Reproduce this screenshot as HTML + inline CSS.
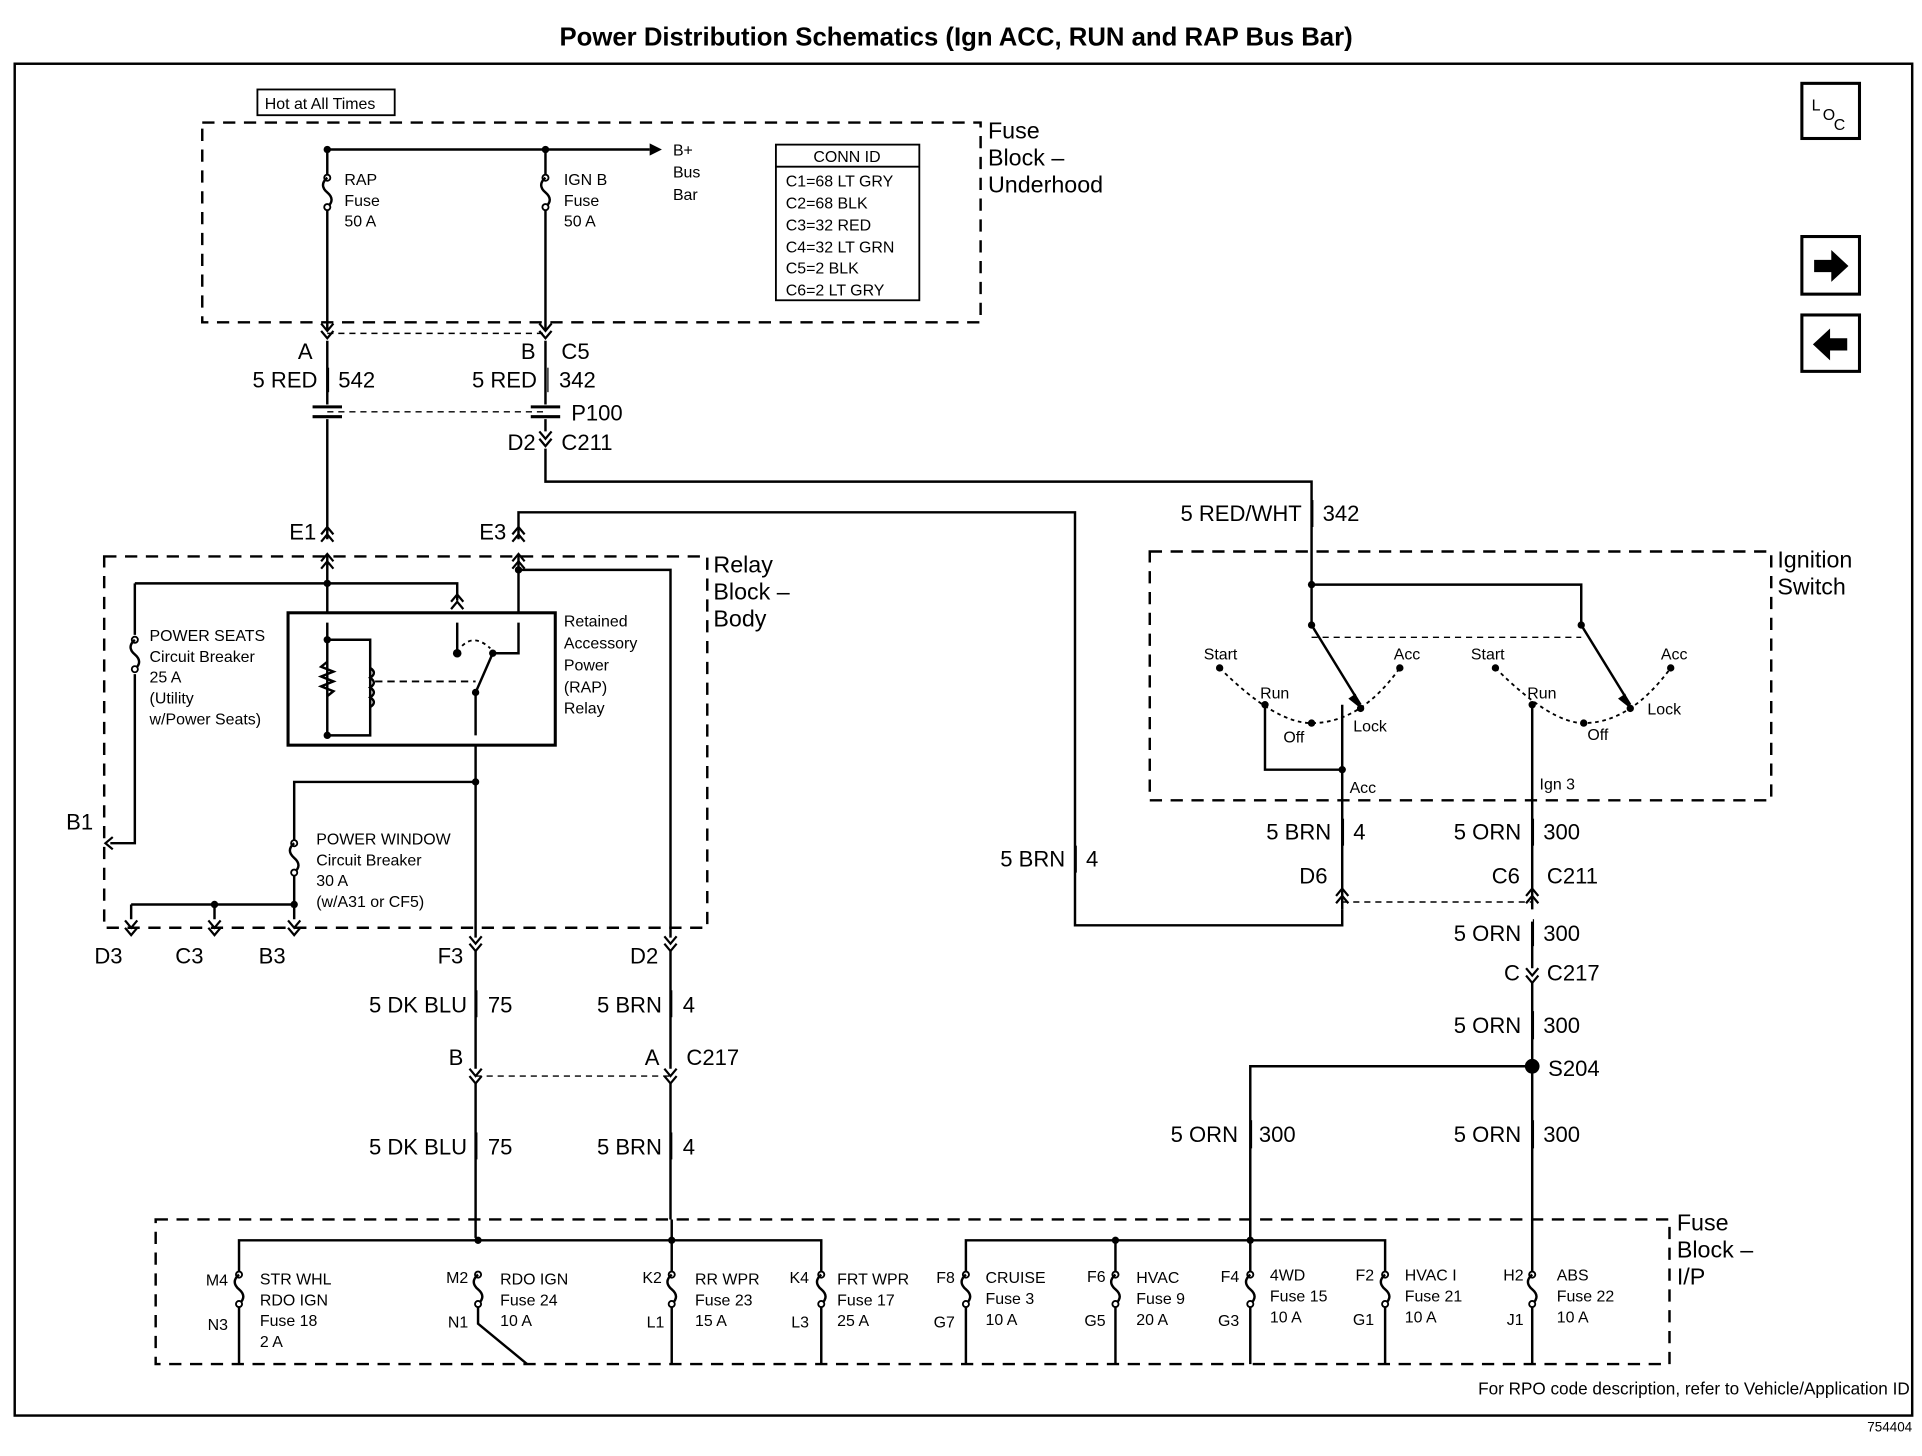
<!DOCTYPE html>
<html><head><meta charset="utf-8"><style>
html,body{margin:0;padding:0;background:#fff;}
svg{display:block;}
text{font-family:"Liberation Sans",Arial,sans-serif;fill:#000;}
.s{font-size:13px;}
.m{font-size:18px;}
.l{font-size:19px;}
</style></head><body>
<svg width="1922" height="1456" viewBox="0 0 1568 1188" preserveAspectRatio="none" xmlns="http://www.w3.org/2000/svg">
<defs>
<g id="fz"><circle cx="0" cy="0" r="2.5" fill="#fff" stroke="#000" stroke-width="1.5"/><path d="M0 0 q-7 6 0 12 q7 6 0 12" fill="none" stroke="#000" stroke-width="2"/><circle cx="0" cy="24" r="2.5" fill="#fff" stroke="#000" stroke-width="1.5"/></g>
<g id="cd"><path d="M-5 -6 L0 0 L5 -6 M-5 0 L0 6 L5 0" fill="none" stroke="#000" stroke-width="1.8"/></g>
<g id="cu"><path d="M-5 6 L0 0 L5 6 M-5 12 L0 6 L5 12" fill="none" stroke="#000" stroke-width="1.8"/></g>
</defs>
<rect width="1568" height="1188" fill="#fff"/>
<text x="780" y="37" text-anchor="middle" style="font-size:21px;font-weight:bold">Power Distribution Schematics (Ign ACC, RUN and RAP Bus Bar)</text>
<rect x="12" y="52" width="1548" height="1103" fill="none" stroke="#000" stroke-width="2"/>
<text x="1558" y="1138" text-anchor="end" style="font-size:14px">For RPO code description, refer to Vehicle/Application ID</text>
<text x="1560" y="1168" text-anchor="end" style="font-size:11px">754404</text>
<!-- side boxes -->
<g fill="none" stroke="#000" stroke-width="2.5">
<rect x="1470" y="68" width="47" height="45"/>
<rect x="1470" y="193" width="47" height="47"/>
<rect x="1470" y="257" width="47" height="46"/>
</g>
<text x="1478" y="90" class="s">L</text><text x="1487" y="98" class="s">O</text><text x="1496" y="106" class="s">C</text>
<path d="M1480 212 h14 v-8 l14 13 l-14 13 v-8 h-14z" fill="#000"/>
<path d="M1507 276 h-14 v-8 l-14 13 l14 13 v-8 h14z" fill="#000"/>

<g fill="none" stroke="#000" stroke-width="2">
<!-- dashed boxes -->
<rect x="165" y="100" width="635" height="163" stroke-dasharray="10 7"/>
<rect x="85" y="454" width="492" height="303" stroke-dasharray="10 7"/>
<rect x="938" y="450" width="507" height="203" stroke-dasharray="10 7"/>
<rect x="127" y="995" width="1235" height="118" stroke-dasharray="10 7"/>
<rect x="210" y="73" width="112" height="21" stroke-width="1.5"/>
<rect x="633" y="118" width="117" height="127" stroke-width="1.5"/>
<line x1="633" y1="136" x2="750" y2="136" stroke-width="1.5"/>
<!-- underhood wires -->
<path d="M267 122 V145 M267 169 V264 M445 122 V145 M445 169 V264 M267 122 H530"/>
<path d="M267 264 V270 M445 264 V270"/>
<line x1="267" y1="272" x2="445" y2="272" stroke-dasharray="5 4" stroke-width="1.2"/>
<path d="M267 278 V330 M445 278 V330 M267 342 V440 M445 342 V352"/>
<line x1="267" y1="336" x2="445" y2="336" stroke-dasharray="5 4" stroke-width="1.2"/>
<path d="M255 332 h24 M255 340 h24 M433 332 h24 M433 340 h24" stroke-width="2.5"/>
<path d="M445 366 V393 H1070 V477"/>
<path d="M423 440 V418 H877 V755 H1095 V742"/>
<!-- relay block -->
<path d="M267 452 V500 M110 476 H373 V490 M110 476 V518 M110 550 V688 H90"/>
<path d="M423 452 V500 M423 465 H547 V765"/>
<rect x="235" y="500" width="218" height="108" stroke-width="2.5"/>
<path d="M267 508 V600 M267 522 H302 V600 H267 M302 545 q6 4 0 8 q6 4 0 8 q6 4 0 8 q6 4 0 8"/>
<path d="M267 540 l-5 4 l10 4 l-10 4 l10 4 l-10 4 l10 4 l-5 4"/>
<line x1="306" y1="556" x2="388" y2="556" stroke-dasharray="6 4" stroke-width="1.5"/>
<path d="M373 508 V530 M388 608 V765 M388 565 L402 533 H423 V508 M388 565 V600"/>
<path d="M377 527 q10 -10 23 2" stroke-dasharray="3 3" stroke-width="1.5"/>
<path d="M388 638 H240 V688 M240 712 V750 M107 738 H240 M107 738 V750 M175 738 V750"/>
<!-- lower wires -->
<path d="M388 775 V872 M547 775 V872 M388 884 V1010 M547 884 V995"/>
<line x1="388" y1="878" x2="547" y2="878" stroke-dasharray="5 4" stroke-width="1.2"/>
<!-- ignition switch -->
<path d="M1070 477 H1290 V510 M1070 477 V510 M1070 510 L1110 575 M1290 510 L1330 575"/>
<line x1="1070" y1="520" x2="1290" y2="520" stroke-dasharray="5 4" stroke-width="1.2"/>
<path d="M995 545 Q1040 590 1070 590 Q1110 590 1142 545" stroke-dasharray="3 3" stroke-width="1.5"/>
<path d="M1220 545 Q1265 590 1292 590 Q1330 590 1363 545" stroke-dasharray="3 3" stroke-width="1.5"/>
<path d="M1032 575 V628 H1095 V742 M1095 575 V628 M1250 575 V742"/>
<line x1="1095" y1="736" x2="1250" y2="736" stroke-dasharray="5 4" stroke-width="1.2"/>
<path d="M1250 752 V790 M1250 802 V1040 M1250 870 H1020 V1040"/>
<!-- fuse block I/P -->
<path d="M195 1040 V1012 H670 V1040 M548 995 V1040 M195 1064 V1113 M390 1064 V1080 L430 1113 M548 1064 V1113 M670 1064 V1113"/>
<path d="M788 1040 V1012 H1130 V1040 M910 1012 V1040 M788 1064 V1113 M910 1064 V1113 M1020 1064 V1113 M1130 1064 V1113 M1250 1064 V1113 M1020 995 V1012"/>
</g>
<polygon points="530,117 540,122 530,127" fill="#000"/>
<use href="#fz" x="267" y="145"/><use href="#fz" x="445" y="145"/>
<use href="#fz" x="110" y="522"/><use href="#fz" x="240" y="688"/>
<use href="#fz" x="195" y="1040"/><use href="#fz" x="390" y="1040"/><use href="#fz" x="548" y="1040"/><use href="#fz" x="670" y="1040"/><use href="#fz" x="788" y="1040"/><use href="#fz" x="910" y="1040"/><use href="#fz" x="1020" y="1040"/><use href="#fz" x="1130" y="1040"/><use href="#fz" x="1250" y="1040"/>
<use href="#cd" x="267" y="270"/><use href="#cd" x="445" y="270"/><use href="#cd" x="445" y="358"/>
<use href="#cu" x="267" y="430"/><use href="#cu" x="423" y="430"/>
<use href="#cu" x="267" y="452"/><use href="#cu" x="423" y="452"/><use href="#cu" x="373" y="485"/>
<use href="#cd" x="107" y="757"/><use href="#cd" x="175" y="757"/><use href="#cd" x="240" y="757"/>
<use href="#cd" x="388" y="770"/><use href="#cd" x="547" y="770"/>
<use href="#cd" x="388" y="878"/><use href="#cd" x="547" y="878"/>
<use href="#cu" x="1095" y="725"/><use href="#cu" x="1250" y="725"/><use href="#cd" x="1250" y="796"/>
<path d="M92 683 l-6 5 l6 5" fill="none" stroke="#000" stroke-width="1.8"/>
<g fill="#000">
<circle cx="267" cy="122" r="3"/><circle cx="445" cy="122" r="3"/>
<circle cx="267" cy="476" r="3"/><circle cx="423" cy="465" r="3"/><circle cx="388" cy="638" r="3"/>
<circle cx="175" cy="738" r="3"/><circle cx="240" cy="738" r="3"/>
<circle cx="267" cy="522" r="3"/><circle cx="267" cy="600" r="3"/><circle cx="373" cy="533" r="3.5"/><circle cx="402" cy="533" r="3"/><circle cx="388" cy="565" r="3"/>
<circle cx="1070" cy="477" r="3"/><circle cx="1070" cy="510" r="3"/><circle cx="1290" cy="510" r="3"/>
<circle cx="995" cy="545" r="3"/><circle cx="1032" cy="575" r="3"/><circle cx="1070" cy="590" r="3"/><circle cx="1110" cy="578" r="3"/><circle cx="1142" cy="545" r="3"/>
<circle cx="1220" cy="545" r="3"/><circle cx="1250" cy="575" r="3"/><circle cx="1292" cy="590" r="3"/><circle cx="1330" cy="578" r="3"/><circle cx="1363" cy="545" r="3"/>
<circle cx="1095" cy="628" r="3"/><circle cx="1250" cy="870" r="6"/>
<circle cx="390" cy="1012" r="3"/><circle cx="548" cy="1012" r="3"/><circle cx="910" cy="1012" r="3"/><circle cx="1020" cy="1012" r="3"/>
</g>
<polygon points="1110,578 1100,570 1106,566" fill="#000"/>
<polygon points="1330,578 1320,570 1326,566" fill="#000"/>

<!-- text -->
<text x="216" y="89" class="s">Hot at All Times</text>
<text x="806" y="113" class="l">Fuse</text><text x="806" y="135" class="l">Block –</text><text x="806" y="157" class="l">Underhood</text>
<text x="281" y="151" class="s">RAP</text><text x="281" y="168" class="s">Fuse</text><text x="281" y="185" class="s">50 A</text>
<text x="460" y="151" class="s">IGN B</text><text x="460" y="168" class="s">Fuse</text><text x="460" y="185" class="s">50 A</text>
<text x="549" y="127" class="s">B+</text><text x="549" y="145" class="s">Bus</text><text x="549" y="163" class="s">Bar</text>
<text x="691" y="132" class="s" text-anchor="middle">CONN ID</text>
<text x="641" y="152" class="s">C1=68 LT GRY</text><text x="641" y="170" class="s">C2=68 BLK</text><text x="641" y="188" class="s">C3=32 RED</text><text x="641" y="206" class="s">C4=32 LT GRN</text><text x="641" y="223" class="s">C5=2 BLK</text><text x="641" y="241" class="s">C6=2 LT GRY</text>
<text x="255" y="293" class="m" text-anchor="end">A</text><text x="437" y="293" class="m" text-anchor="end">B</text><text x="458" y="293" class="m">C5</text>
<text x="259" y="316" class="m" text-anchor="end">5 RED</text><text x="276" y="316" class="m">542</text>
<text x="438" y="316" class="m" text-anchor="end">5 RED</text><text x="456" y="316" class="m">342</text>
<line x1="268" y1="300" x2="268" y2="320" stroke="#000" stroke-width="1"/><line x1="447" y1="300" x2="447" y2="320" stroke="#000" stroke-width="1"/>
<text x="466" y="343" class="m">P100</text>
<text x="437" y="367" class="m" text-anchor="end">D2</text><text x="458" y="367" class="m">C211</text>
<text x="258" y="440" class="m" text-anchor="end">E1</text><text x="413" y="440" class="m" text-anchor="end">E3</text>
<text x="582" y="467" class="l">Relay</text><text x="582" y="489" class="l">Block –</text><text x="582" y="511" class="l">Body</text>
<text x="122" y="523" class="s">POWER SEATS</text><text x="122" y="540" class="s">Circuit Breaker</text><text x="122" y="557" class="s">25 A</text><text x="122" y="574" class="s">(Utility</text><text x="122" y="591" class="s">w/Power Seats)</text>
<text x="460" y="511" class="s">Retained</text><text x="460" y="529" class="s">Accessory</text><text x="460" y="547" class="s">Power</text><text x="460" y="565" class="s">(RAP)</text><text x="460" y="582" class="s">Relay</text>
<text x="76" y="677" class="m" text-anchor="end">B1</text>
<text x="258" y="689" class="s">POWER WINDOW</text><text x="258" y="706" class="s">Circuit Breaker</text><text x="258" y="723" class="s">30 A</text><text x="258" y="740" class="s">(w/A31 or CF5)</text>
<text x="100" y="786" class="m" text-anchor="end">D3</text><text x="166" y="786" class="m" text-anchor="end">C3</text><text x="233" y="786" class="m" text-anchor="end">B3</text>
<text x="378" y="786" class="m" text-anchor="end">F3</text><text x="537" y="786" class="m" text-anchor="end">D2</text>
<text x="381" y="826" class="m" text-anchor="end">5 DK BLU</text><text x="398" y="826" class="m">75</text>
<text x="540" y="826" class="m" text-anchor="end">5 BRN</text><text x="557" y="826" class="m">4</text>
<text x="378" y="869" class="m" text-anchor="end">B</text><text x="538" y="869" class="m" text-anchor="end">A</text><text x="560" y="869" class="m">C217</text>
<text x="381" y="942" class="m" text-anchor="end">5 DK BLU</text><text x="398" y="942" class="m">75</text>
<text x="540" y="942" class="m" text-anchor="end">5 BRN</text><text x="557" y="942" class="m">4</text>
<text x="1062" y="425" class="m" text-anchor="end">5 RED/WHT</text><text x="1079" y="425" class="m">342</text>
<line x1="1071" y1="408" x2="1071" y2="430" stroke="#000" stroke-width="1"/>
<text x="1450" y="463" class="l">Ignition</text><text x="1450" y="485" class="l">Switch</text>
<g style="font-size:13px">
<text x="982" y="538">Start</text><text x="1137" y="538">Acc</text><text x="1028" y="570">Run</text><text x="1047" y="606">Off</text><text x="1104" y="597">Lock</text>
<text x="1200" y="538">Start</text><text x="1355" y="538">Acc</text><text x="1246" y="570">Run</text><text x="1295" y="604">Off</text><text x="1344" y="583">Lock</text>
<text x="1101" y="647">Acc</text><text x="1256" y="644">Ign 3</text>
</g>
<text x="869" y="707" class="m" text-anchor="end">5 BRN</text><text x="886" y="707" class="m">4</text>
<text x="1086" y="685" class="m" text-anchor="end">5 BRN</text><text x="1104" y="685" class="m">4</text>
<text x="1241" y="685" class="m" text-anchor="end">5 ORN</text><text x="1259" y="685" class="m">300</text>
<text x="1083" y="721" class="m" text-anchor="end">D6</text><text x="1240" y="721" class="m" text-anchor="end">C6</text><text x="1262" y="721" class="m">C211</text>
<text x="1241" y="768" class="m" text-anchor="end">5 ORN</text><text x="1259" y="768" class="m">300</text>
<text x="1240" y="800" class="m" text-anchor="end">C</text><text x="1262" y="800" class="m">C217</text>
<text x="1241" y="843" class="m" text-anchor="end">5 ORN</text><text x="1259" y="843" class="m">300</text>
<text x="1263" y="878" class="m">S204</text>
<text x="1010" y="932" class="m" text-anchor="end">5 ORN</text><text x="1027" y="932" class="m">300</text>
<text x="1241" y="932" class="m" text-anchor="end">5 ORN</text><text x="1259" y="932" class="m">300</text>
<g stroke="#000" stroke-width="1"><line x1="1251" y1="668" x2="1251" y2="690"/><line x1="1251" y1="750" x2="1251" y2="772"/><line x1="1251" y1="825" x2="1251" y2="848"/><line x1="1251" y1="914" x2="1251" y2="937"/><line x1="1021" y1="914" x2="1021" y2="937"/><line x1="878" y1="690" x2="878" y2="712"/><line x1="1096" y1="668" x2="1096" y2="690"/><line x1="389" y1="808" x2="389" y2="830"/><line x1="548" y1="808" x2="548" y2="830"/><line x1="389" y1="924" x2="389" y2="946"/><line x1="548" y1="924" x2="548" y2="946"/></g>
<text x="1368" y="1004" class="l">Fuse</text><text x="1368" y="1026" class="l">Block –</text><text x="1368" y="1048" class="l">I/P</text>
<g style="font-size:13px">
<text x="186" y="1049" text-anchor="end">M4</text><text x="186" y="1085" text-anchor="end">N3</text>
<text x="212" y="1048">STR WHL</text><text x="212" y="1065">RDO IGN</text><text x="212" y="1082">Fuse 18</text><text x="212" y="1099">2 A</text>
<text x="382" y="1047" text-anchor="end">M2</text><text x="382" y="1083" text-anchor="end">N1</text>
<text x="408" y="1048">RDO IGN</text><text x="408" y="1065">Fuse 24</text><text x="408" y="1082">10 A</text>
<text x="540" y="1047" text-anchor="end">K2</text><text x="542" y="1083" text-anchor="end">L1</text>
<text x="567" y="1048">RR WPR</text><text x="567" y="1065">Fuse 23</text><text x="567" y="1082">15 A</text>
<text x="660" y="1047" text-anchor="end">K4</text><text x="660" y="1083" text-anchor="end">L3</text>
<text x="683" y="1048">FRT WPR</text><text x="683" y="1065">Fuse 17</text><text x="683" y="1082">25 A</text>
<text x="779" y="1047" text-anchor="end">F8</text><text x="779" y="1083" text-anchor="end">G7</text>
<text x="804" y="1047">CRUISE</text><text x="804" y="1064">Fuse 3</text><text x="804" y="1081">10 A</text>
<text x="902" y="1046" text-anchor="end">F6</text><text x="902" y="1082" text-anchor="end">G5</text>
<text x="927" y="1047">HVAC</text><text x="927" y="1064">Fuse 9</text><text x="927" y="1081">20 A</text>
<text x="1011" y="1046" text-anchor="end">F4</text><text x="1011" y="1082" text-anchor="end">G3</text>
<text x="1036" y="1045">4WD</text><text x="1036" y="1062">Fuse 15</text><text x="1036" y="1079">10 A</text>
<text x="1121" y="1045" text-anchor="end">F2</text><text x="1121" y="1081" text-anchor="end">G1</text>
<text x="1146" y="1045">HVAC I</text><text x="1146" y="1062">Fuse 21</text><text x="1146" y="1079">10 A</text>
<text x="1243" y="1045" text-anchor="end">H2</text><text x="1243" y="1081" text-anchor="end">J1</text>
<text x="1270" y="1045">ABS</text><text x="1270" y="1062">Fuse 22</text><text x="1270" y="1079">10 A</text>
</g>
</svg>
</body></html>
